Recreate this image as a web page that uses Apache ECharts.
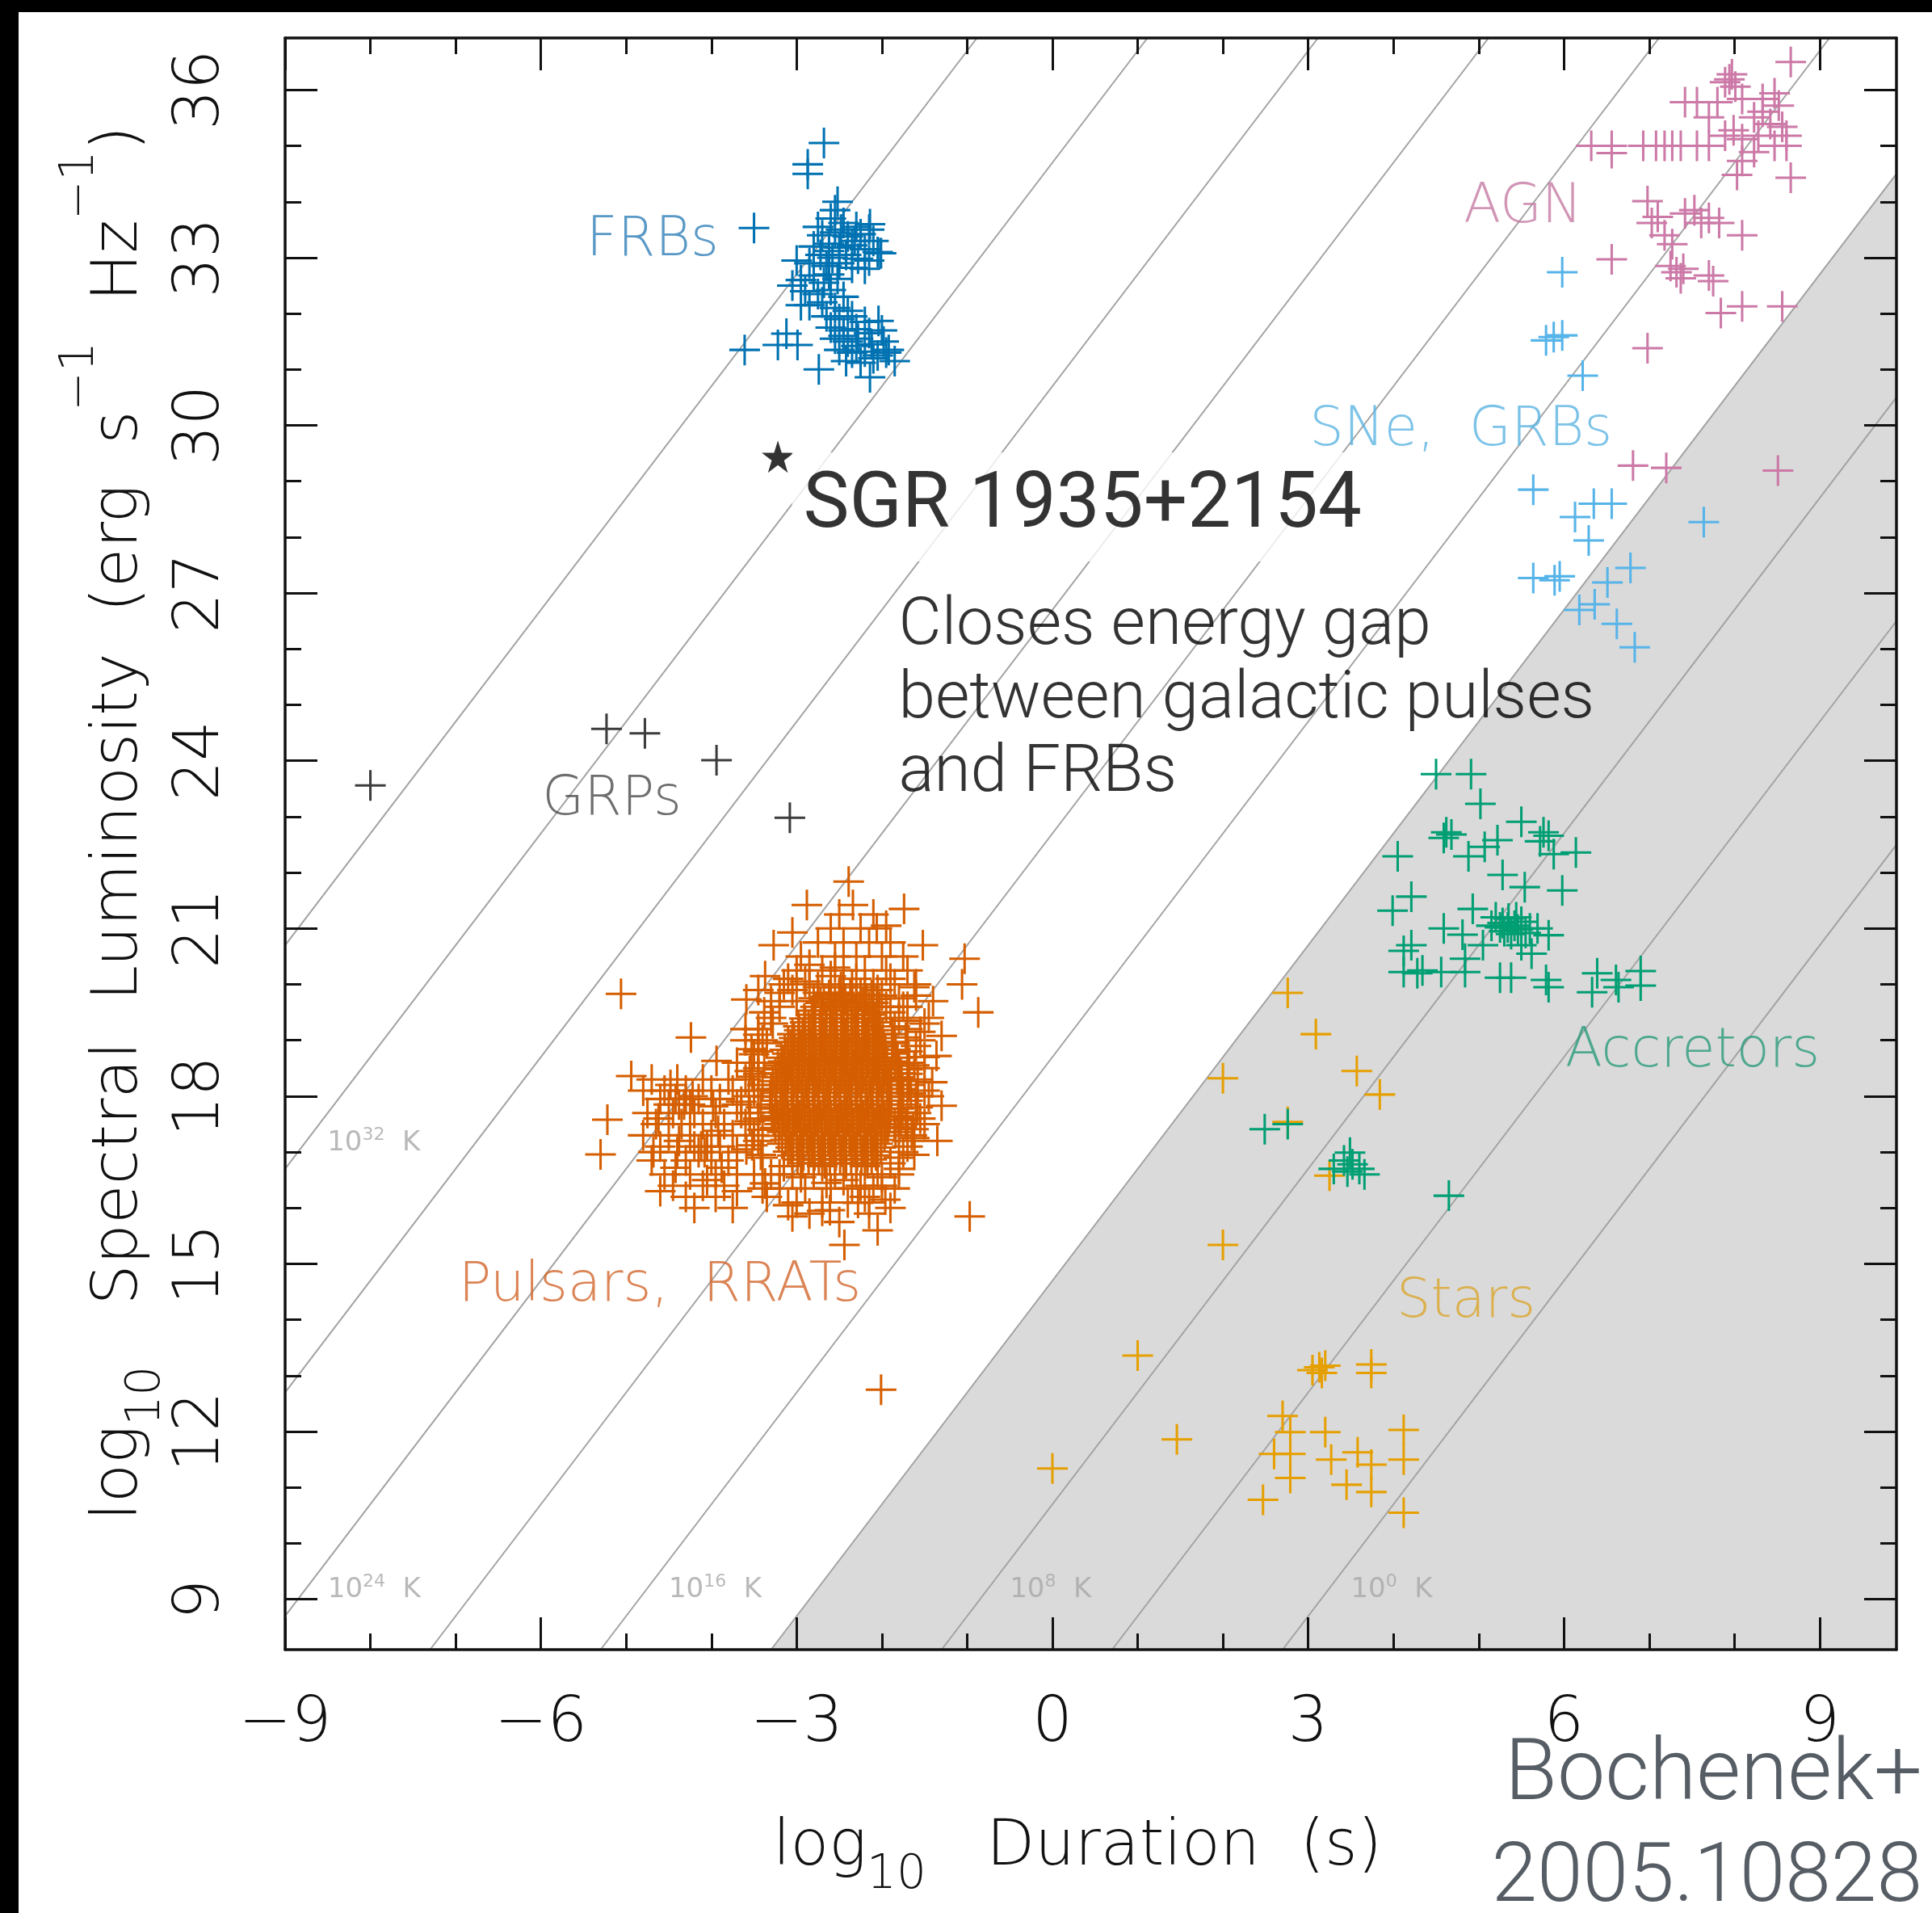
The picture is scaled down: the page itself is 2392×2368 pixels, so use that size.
<!DOCTYPE html>
<html>
<head>
<meta charset="utf-8">
<title>Transient phase space: spectral luminosity vs duration</title>
<script src="https://cdn.jsdelivr.net/npm/echarts@6/dist/echarts.min.js"></script>
<style>
  html, body { margin: 0; padding: 0; background: #ffffff; }
  #chart { width: 2392px; height: 2368px; }
</style>
</head>
<body>
<div id="chart"></div>
<script>
// ---------------------------------------------------------------------------
// Axis extents and tick positions (log10 duration in s, log10 L_nu in erg/s/Hz)
// ---------------------------------------------------------------------------
const X_MIN = -9, X_MAX = 9.9;
const Y_MIN = 8.1, Y_MAX = 36.93;
const xMajorTicks = [-9, -6, -3, 0, 3, 6, 9];
const xMinorTicks = [-8, -7, -5, -4, -2, -1, 1, 2, 4, 5, 7, 8];
const yMajorTicks = [9, 12, 15, 18, 21, 24, 27, 30, 33, 36];
const yMinorTicks = [10, 11, 13, 14, 16, 17, 19, 20, 22, 23, 25, 26, 28, 29, 31, 32, 34, 35];

// Constant brightness-temperature guide lines: log L = log T + 2 log W + offset
const tempLineLogT = [0, 4, 8, 12, 16, 20, 24, 28, 32, 36];
const tempLabelLogT = [32, 24, 16, 8, 0];
const LUM_OFFSET = 2.7;
const COHERENT_LOGT = 12;   // region below this line is shaded

// ---------------------------------------------------------------------------
// Source populations [log10 duration, log10 spectral luminosity]
// ---------------------------------------------------------------------------
const frbPoints = [
  [-2.68,35.05],[-2.87,34.67],[-2.87,34.5],[-3.5,33.53],[-3.61,31.35],[-3.22,31.44],[-3.12,31.64],
  [-2.99,31.44],[-2.74,31.0],[-2.14,33.6],[-2.01,33.08],[-2.04,31.87],[-1.92,31.35],[-2.14,30.86],
  [-2.55,33.85],[-2.52,34.0],[-1.85,31.15],[-3.0,32.95],[-2.95,32.15],
  [-2.75,33.55],[-2.6,33.7],[-2.45,33.62],[-2.3,33.55],[-2.15,33.5],[-2.7,33.4],[-2.55,33.45],
  [-2.4,33.38],[-2.25,33.42],[-2.1,33.3],[-2.8,33.2],[-2.62,33.25],[-2.5,33.18],[-2.35,33.22],
  [-2.2,33.15],[-2.05,33.1],[-2.72,33.05],[-2.58,33.0],[-2.42,33.05],[-2.28,32.98],[-2.15,32.95],
  [-2.85,32.9],[-2.65,32.85],[-2.5,32.9],[-2.35,32.82],[-2.2,32.8],[-2.02,33.08],[-2.48,33.5],
  [-2.32,33.3],[-2.62,33.12],
  [-2.95,32.6],[-2.8,32.68],[-2.68,32.55],[-2.52,32.62],[-2.9,32.4],[-2.75,32.35],[-2.6,32.42],
  [-2.45,32.3],[-2.85,32.15],[-2.7,32.2],[-2.55,32.1],[-2.4,32.05],[-3.05,32.5],[-2.62,32.7],
  [-2.65,31.95],[-2.5,31.9],[-2.35,31.95],[-2.2,31.85],[-2.6,31.75],[-2.45,31.7],[-2.3,31.72],
  [-2.15,31.65],[-2.0,31.7],[-2.55,31.55],[-2.4,31.5],[-2.28,31.55],[-2.12,31.45],[-1.98,31.5],
  [-2.5,31.35],[-2.35,31.3],[-2.2,31.32],[-2.05,31.25],[-2.42,31.15],[-2.25,31.12],[-2.1,31.2],
  [-1.95,31.3],[-2.3,31.42],[-2.45,31.6]
];

const agnPoints = [
  [8.66,36.5],[7.94,36.19],[7.97,36.28],[7.89,36.14],[8.01,36.06],[7.56,35.78],[7.8,35.78],
  [8.09,35.84],[8.33,35.84],[8.47,35.94],[8.52,35.72],[8.23,35.51],[8.42,35.39],[8.56,35.34],
  [8.61,35.18],[8.28,35.18],[8.09,35.12],[7.89,35.18],[8.47,35.0],[8.23,34.89],[8.61,35.0],
  [7.99,35.28],[7.42,35.78],[7.7,35.51],[8.33,35.61],[8.09,34.73],
  [6.32,35.0],[6.56,35.0],[6.93,35.0],[7.08,35.0],[7.18,35.0],[7.27,35.0],[7.37,35.0],
  [7.56,35.0],[7.7,35.0],[6.56,34.87],[8.03,34.48],[8.66,34.43],
  [6.98,34.01],[7.1,33.73],[7.03,33.62],[7.42,33.79],[7.53,33.85],[7.61,33.62],[7.7,33.71],
  [8.09,33.4],[7.18,33.4],[7.27,33.24],[7.82,33.62],[6.56,32.97],
  [7.32,32.74],[7.25,32.85],[7.37,32.63],[7.7,32.68],[7.75,32.58],[7.4,32.8],
  [7.84,32.01],[8.09,32.13],[8.56,32.13],[6.98,31.38],
  [6.81,29.28],[7.2,29.24],[8.51,29.19]
];

const sneGrbPoints = [
  [5.98,32.74],[5.98,31.61],[5.79,31.52],[5.88,31.58],[6.22,30.89],[5.64,28.85],[6.35,28.6],
  [6.56,28.6],[6.13,28.36],[6.29,27.94],[7.64,28.27],[5.64,27.27],[5.89,27.23],[5.95,27.3],
  [6.51,27.19],[6.78,27.45],[6.18,26.7],[6.36,26.8],[6.62,26.45],[6.83,26.03]
];

const grpPoints = [
  [-8.0,23.56],[-5.23,24.57],[-4.78,24.49],[-3.94,24.01],[-3.08,22.98]
];

const accretorPoints = [
  [4.5,23.76],[4.91,23.76],[5.02,23.23],[4.62,22.72],[4.68,22.68],[4.59,22.62],[4.05,22.29],
  [4.88,22.29],[5.07,22.46],[5.22,22.58],[5.5,22.91],[5.76,22.72],[5.82,22.66],[5.72,22.56],
  [5.88,22.33],[6.14,22.36],[5.28,21.96],[5.54,21.74],[5.98,21.68],[4.21,21.57],[3.99,21.32],
  [4.93,21.35],[5.2,21.2],[5.28,21.1],[5.35,21.18],[5.42,21.05],[5.5,21.12],[5.3,20.95],
  [5.38,20.9],[5.46,20.98],[5.55,20.92],[5.25,21.02],[5.34,21.02],[5.44,21.2],[5.15,21.05],
  [5.6,21.0],[4.59,21.0],[4.81,20.89],[5.69,21.0],[5.82,20.88],[4.21,20.7],[4.12,20.6],
  [4.84,20.46],[5.05,20.7],[5.5,20.7],[5.62,20.55],[4.12,20.22],[4.28,20.2],[4.34,20.25],
  [4.56,20.22],[4.84,20.22],[5.25,20.12],[5.38,20.12],[5.79,20.08],[5.82,19.95],
  [6.39,20.2],[6.33,19.86],[6.61,20.08],[6.64,19.95],[6.9,20.24],[6.9,19.98],
  [2.49,17.41],[2.76,17.5],[3.49,16.99],[3.42,16.85],[3.52,16.78],[3.46,16.65],[3.6,16.7],
  [3.66,16.6],[3.3,16.7],[4.65,16.22]
];

const starPoints = [
  [2.76,19.85],[3.09,19.11],[3.57,18.45],[3.84,18.03],[2.0,18.32],[2.76,17.54],[3.25,16.58],
  [2.0,15.34],[1.0,13.36],[1.46,11.86],[3.13,13.15],[3.05,13.1],[3.2,13.18],[3.16,13.05],
  [3.74,13.05],[3.74,13.2],[2.7,12.28],[2.79,11.99],[3.2,11.99],[4.12,12.03],[2.6,11.6],
  [2.79,11.6],[3.27,11.5],[3.58,11.63],[3.74,11.41],[4.12,11.5],[2.79,11.17],[3.45,11.05],
  [3.74,10.92],[2.47,10.78],[4.12,10.55],[0.0,11.34]
];

// Pulsars and RRATs: scattered members and the outer envelope of the cloud
const pulsarPoints = [
  [-5.06,19.83],[-4.24,19.05],[-4.94,18.36],[-5.22,17.58],[-5.3,16.96],[-3.94,18.63],[-0.97,15.85],
  [-2.44,15.34],[-0.87,19.5],[-1.03,20.46],[-2.01,12.75],[-1.06,20.0],
  [-2.88,21.42],[-1.74,21.35],[-2.39,21.84],[-2.34,21.42],[-2.06,21.0],[-3.27,20.7],[-3.05,20.93],
  [-1.52,20.7],[-1.3,19.08],[-1.36,18.72],[-1.41,18.25],[-1.3,17.83],[-1.63,17.41],[-1.96,16.15],
  [-2.28,16.09],[-2.61,15.96],[-3.05,15.85],[-3.37,16.44],[-3.59,17.05],[-3.53,18.84],[-3.37,20.15],
  [-3.59,19.73],
  [-3.15,20.0],[-2.85,20.0],[-2.6,20.0],[-2.35,20.0],[-2.1,20.0],[-1.85,20.0],[-1.6,20.0],
  [-3.0,20.25],[-2.7,20.25],[-2.45,20.25],[-2.2,20.25],[-1.95,20.25],[-1.7,20.25],
  [-2.95,20.5],[-2.55,20.5],[-2.3,20.5],[-2.0,20.5],[-1.75,20.5],
  [-2.75,20.75],[-2.45,20.75],[-2.15,20.75],[-1.9,20.75],
  [-2.6,21.0],[-2.25,21.0],[-1.95,21.05],[-2.5,21.25],[-2.1,21.25],
  [-3.3,16.6],[-3.05,16.6],[-2.8,16.6],[-2.55,16.6],[-2.3,16.6],[-2.05,16.6],[-1.8,16.6],
  [-3.2,16.35],[-2.9,16.35],[-2.6,16.35],[-2.35,16.35],[-2.1,16.35],[-1.85,16.35],
  [-3.0,16.1],[-2.7,16.1],[-2.4,16.1],[-2.15,16.1],
  [-1.7,17.2],[-1.7,17.6],[-1.7,18.0],[-1.7,18.4],[-1.7,18.8],[-1.7,19.2],[-1.7,19.6],
  [-1.5,17.5],[-1.5,18.1],[-1.5,18.7],[-1.5,19.3],
  [-3.45,17.2],[-3.45,17.6],[-3.45,18.0],[-3.45,18.4],[-3.45,18.8],[-3.45,19.2],
  [-3.6,17.5],[-3.6,18.3],[-3.6,19.0],
  [-3.45,19.9],[-3.1,20.1],[-1.6,19.8],[-1.45,19.4],[-1.55,19.0],[-1.5,18.5],[-1.6,18.0],
  [-1.55,17.6],[-1.7,17.1],[-1.8,16.7],[-2.0,16.4],[-3.2,16.6],[-3.4,16.9],[-3.5,17.3],
  [-3.55,17.7],[-3.5,18.1],[-3.45,18.5],[-3.4,19.0],[-3.3,19.4],[-3.6,19.2],[-3.3,19.7],
  [-2.0,19.8],[-2.5,19.85],[-2.8,19.75],[-1.75,19.6],[-1.65,17.3],[-3.35,16.2],[-2.7,15.95],
  [-2.15,15.9],
  [-1.8,16.9],[-1.62,16.95],[-1.85,17.45],[-1.58,17.8],[-1.82,18.3],[-1.62,18.55],[-1.85,18.95],
  [-1.55,19.15],[-1.8,19.4],[-1.62,19.95],[-1.4,19.7],[-1.45,18.0],[-1.35,17.2],
  [-3.0,19.7],[-2.75,19.95],[-2.45,19.7],[-2.2,19.95],[-1.95,19.6],[-3.2,19.85],[-2.6,20.15],
  [-2.3,19.6],[-3.7,18.6],[-3.55,18.45],[-3.65,17.9],[-3.5,16.6],[-3.7,16.3],[-3.4,16.35],
  [-2.85,15.9],[-2.5,15.75],[-2.2,16.2],[-1.9,16.0],[-2.05,15.6],[-3.1,16.05],
  [-3.42,16.95],[-3.52,17.12],[-3.4,17.4],[-3.55,17.55],[-3.42,17.8],[-3.56,18.0],[-3.4,18.2],
  [-3.52,18.35],[-3.38,18.6],[-3.5,18.75],[-3.35,18.95],[-3.45,19.1],[-3.28,19.3],[-3.38,19.5],
  [-3.2,19.6],[-1.9,16.8],[-1.75,17.0],[-1.62,17.25],[-1.72,17.5],[-1.6,17.7],[-1.66,18.05],
  [-1.58,18.3],[-1.68,18.6],[-1.6,18.9],[-1.72,19.05],[-1.85,19.25],[-1.7,19.35],[-1.9,19.5],
  [-1.8,19.75],[-3.05,19.9],[-2.9,20.05],[-2.75,19.85],[-2.48,19.95],[-2.3,20.1],[-2.05,19.9],
  [-1.9,20.1],[-2.55,20.3],[-2.85,20.35],[-3.15,16.75],[-2.95,16.55],[-2.7,16.75],[-2.45,16.5],
  [-2.2,16.75],[-2.0,16.55],[-2.65,16.45],[-2.25,16.4],
  // short-duration group on the left of the main cloud
  [-4.7,18.3],[-4.4,18.3],[-4.1,18.3],[-3.8,18.3],
  [-4.8,18.1],[-4.55,18.1],[-4.3,18.1],[-4.0,18.1],[-3.75,18.1],
  [-4.6,17.95],[-4.42,17.95],[-4.3,17.95],[-4.15,17.95],[-3.9,17.95],
  [-4.5,17.85],[-4.38,17.85],[-4.32,17.85],[-4.25,17.85],[-3.7,17.85],
  [-4.75,17.7],[-4.45,17.7],[-4.2,17.7],[-3.95,17.7],[-3.65,17.7],
  [-4.65,17.5],[-4.35,17.5],[-4.1,17.5],[-3.85,17.5],
  [-4.8,17.3],[-4.5,17.3],[-4.25,17.3],[-4.0,17.3],[-3.75,17.3],
  [-4.6,17.1],[-4.2,17.1],[-4.12,17.1],[-4.05,17.1],[-3.9,17.1],
  [-4.4,17.0],[-4.15,17.0],[-4.08,17.0],[-3.7,17.0],
  [-4.7,16.85],[-4.3,16.85],[-4.0,16.85],[-3.8,16.85],
  [-4.55,16.6],[-4.25,16.6],[-3.95,16.6],[-3.7,16.6],
  [-4.45,16.4],[-4.1,16.4],[-3.85,16.4],
  [-4.3,16.2],[-3.95,16.2],[-4.2,16.0],[-3.75,16.0],
  [-4.48,18.2],[-4.22,18.0],[-3.98,17.82],[-4.62,17.6],[-3.92,17.38],[-4.38,17.2],[-4.68,17.0],
  [-3.88,16.72],[-4.42,16.72],[-4.05,16.5],[-4.6,16.3]
];

// Dense core of the pulsar cloud, listed row by row: [log10 L, [log10 W ...]]
const pulsarCoreRows = [
  [16.80, [-2.93,-2.80,-2.67,-2.55,-2.42,-2.30,-2.17]],
  [16.87, [-2.99,-2.86,-2.74,-2.61,-2.49,-2.36,-2.24,-2.12]],
  [16.94, [-3.05,-2.92,-2.79,-2.67,-2.54,-2.42,-2.29,-2.17,-2.07]],
  [17.01, [-3.10,-2.97,-2.85,-2.72,-2.60,-2.47,-2.35,-2.22,-2.10]],
  [17.08, [-3.07,-2.94,-2.82,-2.69,-2.57,-2.44,-2.32,-2.19,-2.07,-2.01]],
  [17.15, [-3.17,-3.04,-2.92,-2.79,-2.67,-2.54,-2.42,-2.29,-2.17,-2.05]],
  [17.22, [-3.13,-3.00,-2.88,-2.75,-2.63,-2.50,-2.38,-2.25,-2.13,-2.01]],
  [17.29, [-3.21,-3.09,-2.96,-2.84,-2.71,-2.59,-2.46,-2.34,-2.21,-2.09,-1.97]],
  [17.36, [-3.17,-3.05,-2.92,-2.80,-2.67,-2.55,-2.42,-2.30,-2.17,-2.05,-1.96,-1.84]],
  [17.43, [-3.25,-3.12,-3.00,-2.87,-2.75,-2.62,-2.50,-2.37,-2.25,-2.12,-2.00,-1.93,-1.80]],
  [17.50, [-3.20,-3.08,-2.95,-2.83,-2.70,-2.58,-2.45,-2.33,-2.20,-2.08,-1.96,-1.85]],
  [17.57, [-3.27,-3.15,-3.02,-2.90,-2.77,-2.65,-2.52,-2.40,-2.27,-2.15,-2.02,-1.92,-1.78]],
  [17.64, [-3.22,-3.10,-2.97,-2.85,-2.72,-2.60,-2.47,-2.35,-2.22,-2.10,-1.97,-1.91,-1.81]],
  [17.71, [-3.29,-3.16,-3.04,-2.91,-2.79,-2.66,-2.54,-2.41,-2.29,-2.16,-2.04,-1.92,-1.76]],
  [17.78, [-3.24,-3.11,-2.99,-2.86,-2.74,-2.61,-2.49,-2.36,-2.24,-2.11,-1.99,-1.90,-1.80]],
  [17.85, [-3.30,-3.18,-3.05,-2.93,-2.80,-2.68,-2.55,-2.43,-2.30,-2.18,-2.05,-1.93,-1.77]],
  [17.92, [-3.25,-3.12,-3.00,-2.87,-2.75,-2.62,-2.50,-2.37,-2.25,-2.12,-2.00,-1.89,-1.70]],
  [17.99, [-3.31,-3.19,-3.06,-2.94,-2.81,-2.69,-2.56,-2.44,-2.31,-2.19,-2.06,-1.94,-1.75]],
  [18.06, [-3.25,-3.13,-3.00,-2.88,-2.75,-2.63,-2.50,-2.38,-2.25,-2.13,-2.00,-1.89,-1.79]],
  [18.13, [-3.30,-3.18,-3.05,-2.93,-2.80,-2.68,-2.55,-2.43,-2.30,-2.18,-2.05,-1.93,-1.76]],
  [18.20, [-3.24,-3.12,-2.99,-2.87,-2.74,-2.62,-2.49,-2.37,-2.24,-2.12,-1.99,-1.89,-1.68]],
  [18.27, [-3.28,-3.15,-3.03,-2.90,-2.78,-2.65,-2.53,-2.40,-2.28,-2.15,-2.03,-1.92,-1.77]],
  [18.34, [-3.22,-3.10,-2.97,-2.85,-2.72,-2.60,-2.47,-2.35,-2.22,-2.10,-1.97,-1.90,-1.81]],
  [18.41, [-3.25,-3.12,-3.00,-2.87,-2.75,-2.62,-2.50,-2.37,-2.25,-2.12,-2.00,-1.91,-1.78]],
  [18.48, [-3.19,-3.07,-2.94,-2.82,-2.69,-2.57,-2.44,-2.32,-2.19,-2.07,-1.95,-1.70]],
  [18.55, [-3.22,-3.09,-2.97,-2.84,-2.72,-2.59,-2.47,-2.34,-2.22,-2.09,-1.97,-1.80]],
  [18.62, [-3.16,-3.04,-2.91,-2.79,-2.66,-2.54,-2.41,-2.29,-2.16,-2.04,-1.94,-1.85]],
  [18.69, [-3.18,-3.06,-2.93,-2.81,-2.68,-2.56,-2.43,-2.31,-2.18,-2.06,-1.96,-1.82]],
  [18.76, [-3.11,-2.99,-2.86,-2.74,-2.61,-2.49,-2.36,-2.24,-2.11,-2.00,-1.88]],
  [18.83, [-3.14,-3.02,-2.89,-2.77,-2.64,-2.52,-2.39,-2.27,-2.14,-2.03,-1.96,-1.84]],
  [18.90, [-3.07,-2.95,-2.82,-2.70,-2.57,-2.45,-2.32,-2.20,-2.07,-1.98]],
  [18.97, [-3.10,-2.97,-2.85,-2.72,-2.60,-2.47,-2.35,-2.22,-2.10,-2.00,-1.86]],
  [19.04, [-3.03,-2.91,-2.78,-2.66,-2.53,-2.41,-2.28,-2.16,-2.04]],
  [19.11, [-3.05,-2.93,-2.80,-2.68,-2.55,-2.43,-2.30,-2.18,-2.06,-1.99,-1.88]],
  [19.18, [-2.97,-2.85,-2.72,-2.60,-2.47,-2.35,-2.22,-2.10,-2.02]],
  [19.25, [-2.98,-2.86,-2.73,-2.61,-2.48,-2.36,-2.23,-2.11,-2.04]],
  [19.32, [-2.90,-2.78,-2.65,-2.53,-2.40,-2.28,-2.15,-2.07]],
  [19.39, [-2.91,-2.79,-2.66,-2.54,-2.41,-2.29,-2.16,-2.08]],
  [19.46, [-2.82,-2.70,-2.57,-2.45,-2.32,-2.20,-2.12]],
  [19.53, [-2.82,-2.70,-2.57,-2.45,-2.32,-2.20]],
  [19.60, [-2.78,-2.65,-2.53,-2.40,-2.28,-2.15,-2.03]],
  [19.67, [-2.72,-2.60,-2.47,-2.35,-2.22,-2.10]],
  [19.74, [-2.68,-2.55,-2.43,-2.30,-2.18,-2.06]],
  [19.81, [-2.62,-2.50,-2.37,-2.25,-2.12]]
];

// SGR 1935+2154 radio burst
const sgrPoint = [[-3.22, 29.44]];

// ---------------------------------------------------------------------------
// Styling
// ---------------------------------------------------------------------------
const INK = '#111111';
const PG_FONT = '"DejaVu Sans", sans-serif';
const SLIDE_FONT = 'Roboto, "Liberation Sans", sans-serif';
const COLORS = {
  frb: '#0072B2', agn: '#CC79A7', sne: '#56B4E9', acc: '#009E73',
  star: '#E69F00', psr: '#D55E00', grp: '#3c3c3c'
};
const PLUS = 'path://M-0.04,-0.5L0.04,-0.5L0.04,-0.04L0.5,-0.04L0.5,0.04L0.04,0.04L0.04,0.5L-0.04,0.5L-0.04,0.04L-0.5,0.04L-0.5,-0.04L-0.04,-0.04Z';
const STAR = 'path://M50,0L61.2,34.5L97.6,34.5L68.2,55.9L79.4,90.5L50,69.1L20.6,90.5L31.8,55.9L2.4,34.5L38.8,34.5Z';
const CROSS_SIZE = 38;

const pulsarAll = pulsarPoints.concat(
  pulsarCoreRows.flatMap(([y, xs]) => xs.map(x => [x, y]))
);

const fmtTick = v => (v < 0 ? '\u2212' + Math.abs(v) : String(v));

// Line of constant brightness temperature clipped to the plotting box
function tempLineEnds(logT) {
  const yAt = x => logT + LUM_OFFSET + 2 * x;
  const xAt = y => (y - logT - LUM_OFFSET) / 2;
  const start = yAt(X_MIN) >= Y_MIN ? [X_MIN, yAt(X_MIN)] : [xAt(Y_MIN), Y_MIN];
  const end = yAt(X_MAX) <= Y_MAX ? [X_MAX, yAt(X_MAX)] : [xAt(Y_MAX), Y_MAX];
  return [start, end];
}

const shadeEnds = tempLineEnds(COHERENT_LOGT);
const shadePolygon = [shadeEnds[0], shadeEnds[1], [X_MAX, Y_MIN]];

// Temperature labels sit just right of their line
const tempLabels = tempLabelLogT.map(t => {
  const y = t === 32 ? 17.16 : 9.17;
  return [(y - t - LUM_OFFSET) / 2 + 0.26, y, t];
});

function axisX(position, values, length, labels, line) {
  return {
    type: 'value', gridIndex: 0, position, min: X_MIN, max: X_MAX, z: 10,
    axisLine: { show: line, onZero: false, lineStyle: { color: INK, width: 3.5 } },
    axisTick: { show: true, inside: true, length, customValues: values,
                lineStyle: { color: INK, width: 3 } },
    axisLabel: labels ? {
      show: true, customValues: values, formatter: fmtTick, margin: 54,
      fontSize: 78, fontWeight: 200, fontFamily: PG_FONT, color: INK
    } : { show: false },
    splitLine: { show: false }, minorTick: { show: false }, minorSplitLine: { show: false }
  };
}
function axisY(position, values, length, labels, line) {
  return {
    type: 'value', gridIndex: 0, position, min: Y_MIN, max: Y_MAX, z: 10,
    axisLine: { show: line, onZero: false, lineStyle: { color: INK, width: 3.5 } },
    axisTick: { show: true, inside: true, length, customValues: values,
                lineStyle: { color: INK, width: 3 } },
    axisLabel: labels ? {
      show: true, customValues: values, formatter: fmtTick, margin: 64, rotate: 90,
      fontSize: 78, fontWeight: 200, fontFamily: PG_FONT, color: INK
    } : { show: false },
    splitLine: { show: false }, minorTick: { show: false }, minorSplitLine: { show: false }
  };
}

function crossSeries(name, data, color, z) {
  return {
    name, type: 'scatter', data, symbol: PLUS, symbolSize: CROSS_SIZE,
    itemStyle: { color, opacity: 1 }, z, silent: true, clip: true
  };
}

// Invisible anchor points that carry text labels at data coordinates
function textSeries(items, z) {
  return {
    type: 'scatter', symbol: 'circle', symbolSize: 1, silent: true, z, clip: false,
    itemStyle: { color: 'rgba(0,0,0,0)' },
    data: items
  };
}

const categoryLabels = [
  { text: 'FRBs', at: [-5.47, 33.29], color: '#2f7fb8' },
  { text: 'AGN', at: [4.82, 33.88], color: '#c57aa4' },
  { text: 'SNe,  GRBs', at: [3.01, 29.9], color: '#5db4e2' },
  { text: 'GRPs', at: [-5.99, 23.3], color: '#4a4a4a' },
  { text: 'Accretors', at: [6.01, 18.78], color: '#2a9b7a' },
  { text: 'Stars', at: [4.03, 14.3], color: '#dba52a' },
  { text: 'Pulsars,  RRATs', at: [-6.97, 14.59], color: '#d2652a' }
];

const chart = echarts.init(document.getElementById('chart'), null, { renderer: 'canvas' });

const option = {
  animation: false,
  backgroundColor: '#ffffff',
  grid: { left: 353, top: 47, width: 1995, height: 1995, show: false,
          containLabel: false, outerBoundsMode: 'none' },
  xAxis: [
    axisX('bottom', xMajorTicks, 40, true, true),
    axisX('bottom', xMinorTicks, 20, false, false),
    axisX('top', xMajorTicks, 40, false, true),
    axisX('top', xMinorTicks, 20, false, false)
  ],
  yAxis: [
    axisY('left', yMajorTicks, 40, true, true),
    axisY('left', yMinorTicks, 20, false, false),
    axisY('right', yMajorTicks, 40, false, true),
    axisY('right', yMinorTicks, 20, false, false)
  ],
  series: [
    {
      type: 'custom', silent: true, z: 1, clip: true,
      data: [[X_MAX, Y_MIN]],
      renderItem: (params, api) => ({
        type: 'polygon',
        shape: { points: shadePolygon.map(p => api.coord(p)) },
        style: { fill: '#dadada' }
      })
    },
    ...tempLineLogT.map(t => ({
      type: 'line', data: tempLineEnds(t), symbol: 'none', silent: true, z: 2,
      lineStyle: { color: '#a2a2a2', width: 2 }
    })),
    textSeries(tempLabels.map(([x, y, t]) => ({
      value: [x, y],
      label: {
        show: true, position: 'right', distance: 0,
        formatter: '{a|10}{b|' + t + '}{a|  K}',
        rich: {
          a: { fontSize: 34, fontFamily: PG_FONT, color: '#a8a8a8' },
          b: { fontSize: 22, fontFamily: PG_FONT, color: '#a8a8a8', padding: [0, 0, 20, 0] }
        }
      }
    })), 3),
    crossSeries('Pulsars, RRATs', pulsarAll, COLORS.psr, 4),
    crossSeries('GRPs', grpPoints, COLORS.grp, 5),
    crossSeries('FRBs', frbPoints, COLORS.frb, 5),
    crossSeries('SNe, GRBs', sneGrbPoints, COLORS.sne, 5),
    crossSeries('AGN', agnPoints, COLORS.agn, 5),
    crossSeries('Stars', starPoints, COLORS.star, 5),
    crossSeries('Accretors', accretorPoints, COLORS.acc, 6),
    {
      name: 'SGR 1935+2154', type: 'scatter', data: sgrPoint, symbol: STAR, symbolSize: 40,
      itemStyle: { color: '#000000' }, z: 8, silent: true
    },
    textSeries(categoryLabels.map(l => ({
      value: l.at,
      label: { show: true, position: 'right', distance: 0, formatter: l.text,
               fontSize: 67, fontWeight: 200, fontFamily: PG_FONT, color: l.color }
    })), 7),
    textSeries([
      {
        value: [-3.06, 28.54],
        label: { show: true, position: 'right', distance: 0, formatter: 'SGR 1935+2154',
                 fontSize: 96, fontFamily: SLIDE_FONT, color: '#000000',
                 backgroundColor: '#ffffff', lineHeight: 112, padding: [11, 14, 12, 14] }
      },
      {
        value: [-1.81, 25.08],
        label: { show: true, position: 'right', distance: 0,
                 formatter: 'Closes energy gap\nbetween galactic pulses\nand FRBs',
                 fontSize: 82, fontWeight: 300, fontFamily: SLIDE_FONT, color: '#000000',
                 lineHeight: 91 }
      }
    ], 9)
  ],
  graphic: [
    { type: 'rect', shape: { x: 0, y: 0, width: 2392, height: 15 }, style: { fill: '#000' }, z: 100 },
    { type: 'rect', shape: { x: 0, y: 0, width: 23, height: 2368 }, style: { fill: '#000' }, z: 100 },
    {
      type: 'text', x: 148, y: 1019, rotation: Math.PI / 2, z: 50,
      style: {
        text: '{m|log}{s|10}{m|   Spectral  Luminosity  (erg  s}{p|\u22121}{m|  Hz}{p|\u22121}{m|)}',
        align: 'center', verticalAlign: 'middle',
        rich: {
          m: { fontSize: 79, fontWeight: 200, fontFamily: PG_FONT, fill: INK },
          s: { fontSize: 58, fontWeight: 200, fontFamily: PG_FONT, fill: INK, padding: [68, 0, 0, 0] },
          p: { fontSize: 58, fontWeight: 200, fontFamily: PG_FONT, fill: INK, padding: [0, 0, 96, 0] }
        }
      }
    },
    {
      type: 'text', x: 1334, y: 2288, z: 50,
      style: {
        text: '{m|log}{s|10}{m|   Duration  (s)}',
        align: 'center', verticalAlign: 'middle',
        rich: {
          m: { fontSize: 78, fontWeight: 200, fontFamily: PG_FONT, fill: INK },
          s: { fontSize: 58, fontWeight: 200, fontFamily: PG_FONT, fill: INK, padding: [68, 0, 0, 0] }
        }
      }
    },
    {
      type: 'text', x: 2380, y: 2200, z: 50,
      style: { text: 'Bochenek+', align: 'right', verticalAlign: 'middle',
               fontSize: 106, fontWeight: 300, fontFamily: SLIDE_FONT, fill: '#565d65' }
    },
    {
      type: 'text', x: 2380, y: 2327, z: 50,
      style: { text: '2005.10828', align: 'right', verticalAlign: 'middle',
               fontSize: 102, fontWeight: 300, fontFamily: SLIDE_FONT, fill: '#565d65' }
    }
  ]
};

chart.setOption(option);
</script>
</body>
</html>
